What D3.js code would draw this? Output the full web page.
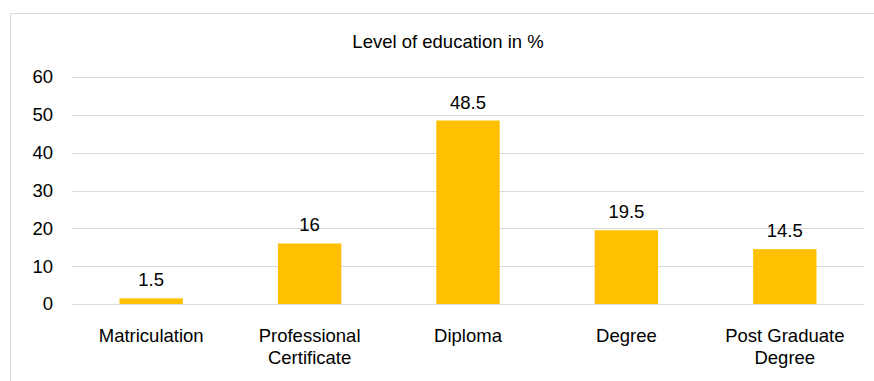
<!DOCTYPE html>
<html>
<head>
<meta charset="utf-8">
<script src="https://cdn.jsdelivr.net/npm/d3@7"></script>
<style>
  body { margin: 0; background: #fff; }
  text { font-family: "Liberation Sans", Arial, sans-serif; fill: #000; }
</style>
</head>
<body>
<svg width="874" height="381"></svg>
<script>
var categories = ["Matriculation", "Professional Certificate", "Diploma", "Degree", "Post Graduate Degree"];
var values = [1.5, 16, 48.5, 19.5, 14.5];
var yTicks = [0, 10, 20, 30, 40, 50, 60];
// wrapped label lines as they appear on the axis
var labelLines = [["Matriculation"], ["Professional", "Certificate"], ["Diploma"], ["Degree"], ["Post Graduate", "Degree"]];

var svg = d3.select("svg");

// chart area border
svg.append("rect")
    .attr("x", 10.5).attr("y", 13.5)
    .attr("width", 880).attr("height", 380)
    .attr("fill", "#fff")
    .attr("stroke", "#d9d9d9");

var x = d3.scaleBand()
    .domain(categories)
    .range([72, 864])
    .paddingInner(0.6)
    .paddingOuter(0.3);

var y = d3.scaleLinear()
    .domain([0, 60])
    .range([304, 77]);

// gridlines
svg.append("g")
    .selectAll("line")
    .data(yTicks)
    .enter()
    .append("line")
    .attr("x1", 72).attr("x2", 864)
    .attr("y1", function(d) { return Math.round(y(d)) + 0.5; })
    .attr("y2", function(d) { return Math.round(y(d)) + 0.5; })
    .attr("stroke", "#d9d9d9")
    .attr("stroke-width", 1);

// y axis labels
var yAxis = d3.axisLeft(y).tickValues(yTicks).tickSize(0).tickPadding(0);
var ya = svg.append("g")
    .attr("transform", "translate(53,0)")
    .call(yAxis);
ya.select(".domain").remove();
ya.selectAll("text")
    .style("font-size", "18.5px")
    .attr("fill", "#000");

// bars
svg.append("g")
    .selectAll("rect")
    .data(values)
    .enter()
    .append("rect")
    .attr("x", function(d, i) { return x(categories[i]); })
    .attr("y", function(d) { return y(d); })
    .attr("width", x.bandwidth())
    .attr("height", function(d) { return y(0) - y(d); })
    .attr("fill", "#FFC000");

// value labels
svg.append("g")
    .selectAll("text")
    .data(values)
    .enter()
    .append("text")
    .attr("x", function(d, i) { return x(categories[i]) + x.bandwidth() / 2; })
    .attr("y", function(d) { return y(d) - 12; })
    .attr("text-anchor", "middle")
    .style("font-size", "18.5px")
    .text(function(d) { return d; });

// category labels
var cat = svg.append("g")
    .selectAll("text")
    .data(categories)
    .enter()
    .append("text")
    .attr("x", function(d) { return x(d) + x.bandwidth() / 2; })
    .attr("y", 342)
    .attr("text-anchor", "middle")
    .style("font-size", "18.5px");

cat.selectAll("tspan")
    .data(function(d, i) { return labelLines[i]; })
    .enter()
    .append("tspan")
    .attr("x", function() { return d3.select(this.parentNode).attr("x"); })
    .attr("dy", function(d, i) { return i === 0 ? 0 : 22; })
    .text(function(d) { return d; });

// title
svg.append("text")
    .attr("x", 448)
    .attr("y", 48)
    .attr("text-anchor", "middle")
    .style("font-size", "18.5px")
    .text("Level of education in %");
</script>
</body>
</html>
